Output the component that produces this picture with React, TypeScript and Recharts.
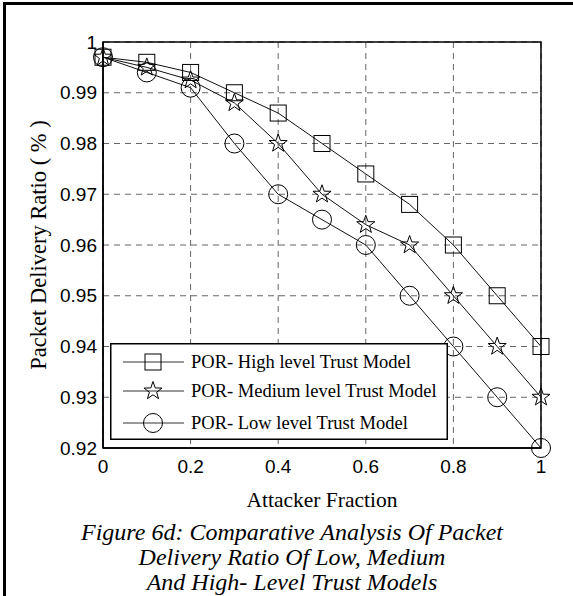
import { LineChart, Line, XAxis, YAxis, CartesianGrid, ReferenceArea, Legend } from 'recharts';

const fractions = [0, 0.1, 0.2, 0.3, 0.4, 0.5, 0.6, 0.7, 0.8, 0.9, 1];
const highTrust = [0.997, 0.996, 0.994, 0.99, 0.986, 0.98, 0.974, 0.968, 0.96, 0.95, 0.94];
const mediumTrust = [0.997, 0.995, 0.9925, 0.988, 0.98, 0.97, 0.964, 0.96, 0.95, 0.94, 0.93];
const lowTrust = [0.997, 0.994, 0.991, 0.98, 0.97, 0.965, 0.96, 0.95, 0.94, 0.93, 0.92];

const xTicks = [0, 0.2, 0.4, 0.6, 0.8, 1];
const yTicks = [0.92, 0.93, 0.94, 0.95, 0.96, 0.97, 0.98, 0.99, 1];

const seriesNames = [
  'POR- High level Trust Model',
  'POR- Medium level Trust Model',
  'POR- Low level Trust Model',
];
const captionLines = [
  'Figure 6d: Comparative Analysis Of Packet',
  'Delivery Ratio Of Low, Medium',
  'And High- Level Trust Models',
];

const data = fractions.map((f, i) => ({
  f,
  high: highTrust[i],
  medium: mediumTrust[i],
  low: lowTrust[i],
}));

const SERIF = '"Liberation Serif", Tinos, "Times New Roman", Times, "DejaVu Serif", serif';
const SANS = '"Liberation Sans", Arial, sans-serif';

function starPath(cx: number, cy: number, R: number, r: number) {
  let d = '';
  for (let k = 0; k < 10; k++) {
    const rad = k % 2 === 0 ? R : r;
    const a = -Math.PI / 2 + (k * Math.PI) / 5;
    d += (k === 0 ? 'M' : 'L') + (cx + rad * Math.cos(a)).toFixed(2) + ',' + (cy + rad * Math.sin(a)).toFixed(2);
  }
  return d + 'Z';
}

function Marker({ kind, cx, cy }: { kind: string; cx: number; cy: number }) {
  if (kind === 'square')
    return <rect x={cx - 8} y={cy - 8} width={16} height={16} fill="none" stroke="#000" strokeWidth={1} />;
  if (kind === 'star')
    return <path d={starPath(cx, cy, 9.5, 3.8)} fill="none" stroke="#000" strokeWidth={1} />;
  return <circle cx={cx} cy={cy} r={9.5} fill="none" stroke="#000" strokeWidth={1} />;
}

const dotFor = (kind: string) => (props: any) => (
  <Marker key={`${kind}-${props.index}`} kind={kind} cx={props.cx} cy={props.cy} />
);

const markerKinds = ['square', 'star', 'circle'];

function LegendBox() {
  const rows = [19, 48, 80];
  return (
    <svg width={338} height={97} style={{ display: 'block' }}>
      <rect x={0.75} y={0.75} width={336.5} height={95.5} fill="#fff" stroke="#000" strokeWidth={1.5} />
      {seriesNames.map((name, i) => (
        <g key={name}>
          <line x1={13} x2={74} y1={rows[i]} y2={rows[i]} stroke="#333" strokeWidth={1} />
          <Marker kind={markerKinds[i]} cx={43} cy={rows[i]} />
          <text x={81} y={rows[i] + 6} style={{ fontFamily: SERIF, fontSize: 18.5 }} fill="#000">
            {name}
          </text>
        </g>
      ))}
    </svg>
  );
}

export default function App() {
  return (
    <div style={{ position: 'relative', width: 573, height: 596, overflow: 'hidden', background: '#fff' }}>
      <style>{'body{margin:0}'}</style>
      {/* cropped table-cell frame: top and left edges only */}
      <div
        style={{
          position: 'absolute', left: 3, top: 2, width: 580, height: 600,
          borderTop: '3px solid #000', borderLeft: '3px solid #000',
        }}
      />
      <LineChart
        width={573}
        height={596}
        data={data}
        margin={{ top: 42, right: 32, bottom: 68, left: 0 }}
      >
        <CartesianGrid stroke="#666" strokeDasharray="6 5" strokeWidth={1} />
        <XAxis
          dataKey="f"
          type="number"
          domain={[0, 1]}
          ticks={xTicks}
          tickFormatter={(v: number) => String(v)}
          tick={{ fontSize: 19, fill: '#000', fontFamily: SANS }}
          tickLine={false}
          tickMargin={6}
          axisLine={{ stroke: '#000', strokeWidth: 1.5 }}
          height={80}
          label={{
            value: 'Attacker Fraction',
            position: 'insideTop',
            offset: 44,
            style: { fontSize: 21.5, fill: '#000', fontFamily: SERIF },
          }}
        />
        <YAxis
          type="number"
          domain={[0.92, 1]}
          ticks={yTicks}
          tickFormatter={(v: number) => (v === 1 ? '1' : v.toFixed(2))}
          tick={{ fontSize: 19, fill: '#000', fontFamily: SANS }}
          tickLine={false}
          tickMargin={0}
          axisLine={{ stroke: '#000', strokeWidth: 1.5 }}
          width={103}
          label={{
            value: 'Packet Delivery Ratio ( % )',
            angle: -90,
            position: 'insideLeft',
            offset: 38,
            style: { fontSize: 22.5, fill: '#000', fontFamily: SERIF, textAnchor: 'middle' },
          }}
        />
        <ReferenceArea x1={0} x2={1} y1={0.92} y2={1} fill="none" stroke="#000" strokeWidth={1.5} />
        <Line dataKey="high" name={seriesNames[0]} stroke="#111" strokeWidth={1} dot={dotFor('square')} isAnimationActive={false} />
        <Line dataKey="medium" name={seriesNames[1]} stroke="#111" strokeWidth={1} dot={dotFor('star')} isAnimationActive={false} />
        <Line dataKey="low" name={seriesNames[2]} stroke="#111" strokeWidth={1} dot={dotFor('circle')} isAnimationActive={false} />
        <Legend
          layout="vertical"
          align="center"
          verticalAlign="middle"
          content={() => <LegendBox />}
          wrapperStyle={{ position: 'absolute', left: 110, top: 343, width: 338, height: 97, margin: 0 }}
        />
      </LineChart>
      <div
        style={{
          position: 'absolute', left: 11, top: 520, width: 562, textAlign: 'center',
          fontFamily: SERIF, fontStyle: 'italic', fontSize: 24, lineHeight: '25px', color: '#000',
        }}
      >
        {captionLines.map((l) => (
          <div key={l}>{l}</div>
        ))}
      </div>
    </div>
  );
}
